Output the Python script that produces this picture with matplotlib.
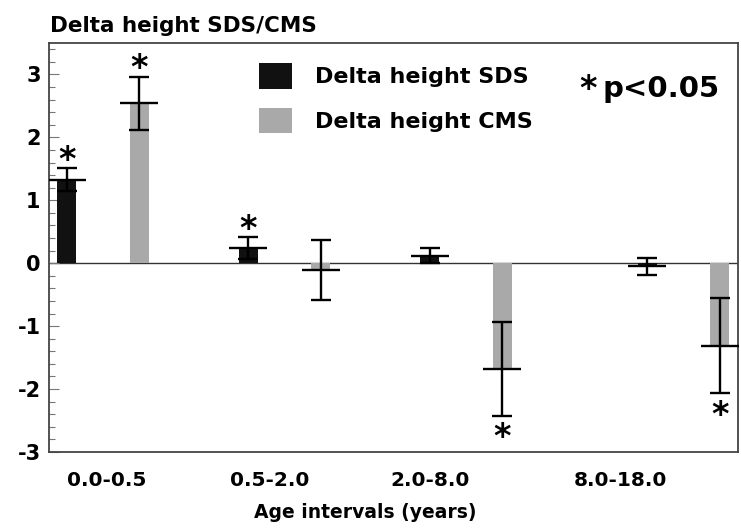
import matplotlib
matplotlib.use('Agg')
import matplotlib.pyplot as plt
import numpy as np
from matplotlib.patches import Patch

plt.rcParams.update({'font.family': ['DejaVu Sans'], 'font.weight': 'bold',
                     'font.size': 16, 'axes.unicode_minus': False})

intervals = ['0.0-0.5', '0.5-2.0', '2.0-8.0', '8.0-18.0']

sds_mean = [1.33, 0.24, 0.12, -0.05]
sds_err = [0.18, 0.17, 0.12, 0.13]
sds_sig = [True, True, False, False]

cms_mean = [2.54, -0.11, -1.68, -1.31]
cms_err = [0.42, 0.48, 0.75, 0.76]
cms_sig = [True, False, True, True]

# group spacing is not even in the original
group_pos = np.array([0.0, 1.0, 2.0, 3.2])
tick_pos = [0.02, 0.92, 1.8, 2.85]
offset = 0.2
width = 0.105

fig = plt.figure(figsize=(7.41, 5.31), dpi=100)
ax = fig.add_axes([0.0661, 0.1488, 0.9299, 0.7702])

series = [(sds_mean, sds_err, sds_sig, '#111111', -offset),
          (cms_mean, cms_err, cms_sig, '#a9a9a9', offset)]

for means, errs, sig, c, off in series:
    x = group_pos + off
    ax.bar(x, means, width=width, color=c, linewidth=0, zorder=2)
    ax.errorbar(x, means, yerr=errs, fmt='_', color='black', markersize=27,
                markeredgewidth=1.7, elinewidth=1.7, capsize=7.5, capthick=1.7,
                zorder=3)
    for xi, m, e, s in zip(x, means, errs, sig):
        if not s:
            continue
        if m > 0:
            ax.annotate('*', (xi, m + e), xytext=(0, -1), textcoords='offset points',
                        ha='center', va='baseline', fontsize=24)
        else:
            ax.annotate('*', (xi, m - e), xytext=(0, -22.5), textcoords='offset points',
                        ha='center', va='baseline', fontsize=24)

ax.axhline(0, color='#333333', linewidth=1.0, zorder=1)

ax.set_xlim(-0.298, 3.5)
ax.set_ylim(-3, 3.5)
ax.set_yticks([-3, -2, -1, 0, 1, 2, 3])
ax.set_yticks(np.arange(-3, 3.5, 0.2), minor=True)
ax.tick_params(axis='y', which='major', direction='in', length=7, width=0.8,
               color='#777777', pad=6, labelsize=15)
ax.tick_params(axis='y', which='minor', direction='in', length=4, width=0.8,
               color='#777777')
ax.set_xticks(tick_pos)
ax.set_xticklabels(intervals)
ax.tick_params(axis='x', length=0, pad=14, labelsize=14.5)
for sp in ax.spines.values():
    sp.set_color('#444444')
    sp.set_linewidth(1.3)

ax.set_xlabel('Age intervals (years)', fontsize=13.5, fontweight='bold')
ax.xaxis.set_label_coords(0.459, -0.125)
fig.text(50 / 741, 1 - 32 / 531, 'Delta height SDS/CMS', fontsize=15.5,
         fontweight='bold', va='baseline', ha='left')

handles = [Patch(facecolor='#111111', label='Delta height SDS'),
           Patch(facecolor='#a9a9a9', label='Delta height CMS')]
ax.legend(handles=handles, loc='upper left', bbox_to_anchor=(0.305, 0.951),
          frameon=False, fontsize=16, handlelength=1.49, handleheight=1.4,
          handletextpad=1.04, labelspacing=0.85, borderaxespad=0, borderpad=0)

ax.text(0.8026, 0.868, 'p<0.05', transform=ax.transAxes, fontsize=21,
        fontweight='bold', ha='left', va='baseline')
ax.annotate('*', (0.783, 0.868), xycoords='axes fraction', xytext=(0, -1.7),
            textcoords='offset points', fontsize=24, fontweight='bold',
            ha='center', va='baseline')

fig.savefig('out.png', dpi=100)
